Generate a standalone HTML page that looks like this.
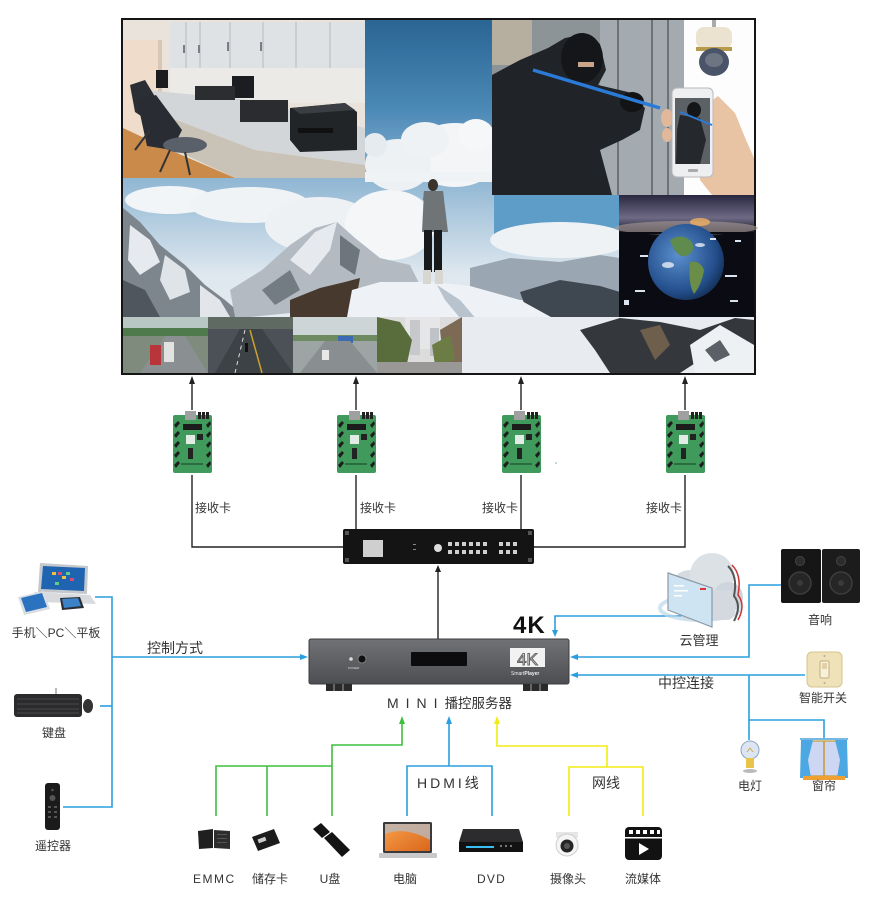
<!DOCTYPE html>
<html><head><meta charset="utf-8"><style>
html,body{margin:0;padding:0;background:#fff;}
body{width:871px;height:904px;overflow:hidden;position:relative;}
svg{position:absolute;left:0;top:0;}
</style></head><body>
<svg width="871" height="904" viewBox="0 0 871 904" xmlns="http://www.w3.org/2000/svg" font-family="'Liberation Sans','Noto Sans CJK SC',sans-serif">
<defs>
<linearGradient id="skyC" x1="0" y1="0" x2="0" y2="1"><stop offset="0" stop-color="#2a6594"/><stop offset="0.55" stop-color="#4a88b6"/><stop offset="1" stop-color="#8db5d2"/></linearGradient>
<linearGradient id="skyP" x1="0" y1="0" x2="0" y2="1"><stop offset="0" stop-color="#8fb6d3"/><stop offset="0.5" stop-color="#dfe8ef"/><stop offset="1" stop-color="#e8edf1"/></linearGradient>
<linearGradient id="earthTop" x1="0" y1="0" x2="0" y2="1"><stop offset="0" stop-color="#2a2740"/><stop offset="0.6" stop-color="#6e6a86"/><stop offset="1" stop-color="#16151e"/></linearGradient>
<radialGradient id="globe" cx="0.4" cy="0.4" r="0.7"><stop offset="0" stop-color="#5b8fce"/><stop offset="0.7" stop-color="#244f8c"/><stop offset="1" stop-color="#0f2748"/></radialGradient>
<linearGradient id="ms" x1="0" y1="0" x2="0" y2="1"><stop offset="0" stop-color="#707276"/><stop offset="1" stop-color="#4c4e52"/></linearGradient>
<linearGradient id="lapScr" x1="0" y1="0" x2="1" y2="1"><stop offset="0" stop-color="#f7a04a"/><stop offset="1" stop-color="#d9661c"/></linearGradient>
<symbol id="rc" viewBox="0 0 39 62">
 <rect x="0" y="4" width="39" height="58" rx="2" fill="#3f9a5c"/>
 <rect x="12" y="0" width="11" height="9" fill="#a0a0a0"/>
 <rect x="25" y="1" width="3" height="7" fill="#222"/><rect x="29" y="1" width="3" height="7" fill="#222"/><rect x="33" y="1" width="3" height="7" fill="#222"/>
 <rect x="10" y="13" width="19" height="6" fill="#1c1c1c"/>
 <rect x="13" y="24" width="9" height="9" fill="#e3ece4"/>
 <rect x="24" y="23" width="6" height="6" fill="#222"/>
 <rect x="15" y="37" width="5" height="11" fill="#222"/>
 <g fill="#1e1e1e">
  <polygon points="1,14 5,10 7,12 3,17"/><polygon points="1,24 5,20 7,22 3,27"/><polygon points="1,34 5,30 7,32 3,37"/><polygon points="1,44 5,40 7,42 3,47"/><polygon points="1,54 5,50 7,52 3,57"/>
  <polygon points="33,14 37,10 38,13 35,17"/><polygon points="33,24 37,20 38,23 35,27"/><polygon points="33,34 37,30 38,33 35,37"/><polygon points="33,44 37,40 38,43 35,47"/><polygon points="33,54 37,50 38,53 35,57"/>
 </g>
 <rect x="8" y="52" width="22" height="2" fill="#2a6b40"/>
</symbol>
</defs>

<!-- ============ VIDEO WALL ============ -->
<rect x="121" y="18" width="635" height="357" fill="#151515"/>
<!-- panorama base -->
<rect x="123" y="178" width="631" height="195" fill="url(#skyP)"/>
<!-- right sky -->
<rect x="494" y="195" width="126" height="40" fill="#5f9dc9"/>
<ellipse cx="560" cy="240" rx="70" ry="18" fill="#eef2f5"/>
<!-- left clouds -->
<ellipse cx="170" cy="200" rx="45" ry="14" fill="#f2f5f8"/>
<ellipse cx="250" cy="205" rx="60" ry="18" fill="#f0f3f6"/>
<ellipse cx="320" cy="225" rx="55" ry="28" fill="#eef1f4"/>
<ellipse cx="390" cy="225" rx="45" ry="35" fill="#f4f6f8"/>
<!-- left mountains -->
<polygon points="123,208 140,222 160,245 185,265 205,285 225,300 245,317 123,317" fill="#7d858d"/>
<polygon points="130,225 150,240 160,262 140,275 128,260" fill="#e6eaee"/>
<polygon points="165,255 185,270 190,292 170,300 160,280" fill="#dfe4e9"/>
<polygon points="200,285 220,300 230,317 200,317" fill="#e2e6ea"/>
<polygon points="123,280 145,290 160,317 123,317" fill="#4f565d"/>
<polygon points="230,290 262,270 290,245 315,228 337,222 355,238 380,258 410,265 420,285 360,300 300,312 250,317 235,317" fill="#b3bac2"/>
<polygon points="290,260 315,232 337,222 330,250 310,275" fill="#e6eaee"/>
<polygon points="340,235 360,250 355,275 340,265" fill="#6d757d"/>
<polygon points="262,290 290,270 300,290 275,305" fill="#737b83"/>
<!-- dark rock -->
<polygon points="290,300 320,288 345,282 360,278 356,300 350,317 290,317" fill="#47392d"/>
<!-- right far mountains -->
<polygon points="470,268 510,258 560,262 600,255 620,258 620,300 470,300" fill="#9aa7b3"/>
<polygon points="520,292 560,280 600,286 620,292 620,320 530,320" fill="#3f4750"/>
<!-- snow field -->
<polygon points="347,317 352,290 380,282 432,282 470,286 520,300 560,322 600,345 640,373 347,373" fill="#eef2f6"/>
<polygon points="437,285 460,300 490,335 500,350 490,352 470,330 445,300" fill="#b9c3cd"/>
<!-- bottom right -->
<rect x="462" y="317" width="292" height="56" fill="#e8ecf0"/>
<polygon points="580,330 620,318 660,322 700,330 735,318 754,320 754,345 725,340 700,360 680,373 610,373 595,350" fill="#34383c"/>
<polygon points="640,330 660,325 670,345 655,360" fill="#6e5f4c"/>
<polygon points="690,345 720,325 754,345 754,373 695,373" fill="#eef1f4"/>
<polygon points="705,350 720,340 730,355 715,362" fill="#5a6066"/>
<!-- person -->
<ellipse cx="433" cy="185" rx="5" ry="6" fill="#3a342d"/>
<polygon points="424,191 443,191 448,232 422,232" fill="#6f7476"/>
<rect x="424" y="230" width="8" height="42" fill="#18191b"/>
<rect x="434" y="230" width="8" height="42" fill="#18191b"/>
<rect x="423" y="270" width="8" height="14" fill="#d8d6d0"/>
<rect x="435" y="270" width="8" height="14" fill="#d8d6d0"/>

<!-- sky column -->
<rect x="365" y="20" width="129" height="160" fill="url(#skyC)"/>
<ellipse cx="455" cy="155" rx="45" ry="32" fill="#f3f5f7"/>
<ellipse cx="398" cy="165" rx="33" ry="26" fill="#eef1f4"/>
<ellipse cx="476" cy="135" rx="18" ry="16" fill="#f5f7f9"/>
<ellipse cx="425" cy="140" rx="24" ry="18" fill="#eff2f5"/>
<ellipse cx="375" cy="145" rx="12" ry="12" fill="#e6ebf0"/>
<rect x="365" y="172" width="129" height="10" fill="#f0f3f6"/>
<ellipse cx="433" cy="185" rx="5" ry="6" fill="#3a342d"/>
<polygon points="424,191 443,191 444,200 423,200" fill="#6f7476"/>

<!-- office photo -->
<rect x="123" y="20" width="242" height="158" fill="#e9e3dc"/>
<rect x="123" y="40" width="38" height="110" fill="#f0dccb"/>
<rect x="158" y="40" width="4" height="110" fill="#d9c6b4"/>
<rect x="170" y="22" width="195" height="46" fill="#dfe2e5"/>
<g stroke="#b5babf" stroke-width="1"><line x1="186" y1="22" x2="186" y2="68"/><line x1="200" y1="22" x2="200" y2="68"/><line x1="230" y1="22" x2="230" y2="68"/><line x1="263" y1="22" x2="263" y2="68"/><line x1="296" y1="22" x2="296" y2="68"/><line x1="330" y1="22" x2="330" y2="68"/></g>
<g fill="#7a7e83"><rect x="183" y="45" width="2" height="8"/><rect x="198" y="45" width="2" height="8"/><rect x="227" y="42" width="2" height="9"/><rect x="260" y="42" width="2" height="9"/></g>
<rect x="170" y="68" width="195" height="35" fill="#eceae6"/>
<rect x="156" y="70" width="12" height="18" fill="#1c1c1e"/>
<rect x="232" y="76" width="22" height="22" fill="#1c1d20"/>
<polygon points="145,90 250,100 365,128 365,165 255,150 150,110" fill="#d3d6d9"/>
<polygon points="150,110 255,150 365,165 365,178 235,178 175,150" fill="#c9c2b6"/>
<polygon points="123,128 170,150 235,178 123,178" fill="#c98a4a"/>
<rect x="195" y="86" width="40" height="14" fill="#2b2d31"/>
<rect x="240" y="100" width="48" height="22" fill="#2a2c30"/>
<polygon points="290,108 345,103 357,112 357,150 300,152 290,140" fill="#222528"/>
<polygon points="292,108 345,103 355,110 300,114" fill="#3a3d41"/>
<rect x="298" y="128" width="35" height="5" fill="#111"/>
<polygon points="130,85 145,80 160,105 150,122 135,112" fill="#2b2f35"/>
<polygon points="137,100 156,95 182,130 172,150 147,146" fill="#292d33"/>
<ellipse cx="185" cy="145" rx="22" ry="8" fill="#5a606a"/>
<g stroke="#333" stroke-width="2"><line x1="170" y1="150" x2="160" y2="172"/><line x1="185" y1="152" x2="190" y2="175"/><line x1="150" y1="130" x2="135" y2="150"/></g>

<!-- burglar photo -->
<rect x="492" y="20" width="192" height="175" fill="#8d9498"/>
<rect x="492" y="20" width="40" height="45" fill="#b6ae9f"/>
<rect x="600" y="20" width="84" height="175" fill="#a3abb0"/>
<g stroke="#6c7276" stroke-width="2"><line x1="618" y1="20" x2="618" y2="195"/><line x1="652" y1="20" x2="652" y2="195"/><line x1="668" y1="20" x2="668" y2="195"/></g>
<polygon points="492,75 520,60 548,48 565,38 585,34 600,44 606,70 598,85 628,92 645,108 640,130 622,140 600,150 612,195 492,195" fill="#202327"/>
<ellipse cx="582" cy="58" rx="21" ry="25" fill="#141619"/>
<rect x="578" y="62" width="16" height="5" fill="#c9a488"/>
<ellipse cx="632" cy="102" rx="12" ry="10" fill="#121315"/>
<line x1="533" y1="70" x2="660" y2="108" stroke="#2a7ad8" stroke-width="3.5"/>
<!-- white panel -->
<rect x="684" y="20" width="70" height="175" fill="#fdfdfd"/>
<rect x="712" y="20" width="4" height="8" fill="#aaa"/>
<rect x="696" y="27" width="36" height="22" rx="8" fill="#ebe3d0"/>
<rect x="696" y="47" width="36" height="4" fill="#b79a4c"/>
<ellipse cx="714" cy="62" rx="15" ry="14" fill="#4a5468"/>
<ellipse cx="714" cy="60" rx="9" ry="7" fill="#6d7482"/>
<polygon points="700,110 718,96 735,113 746,140 754,158 754,195 712,195 700,180" fill="#e8c3a4"/>
<ellipse cx="667" cy="118" rx="6" ry="9" fill="#e1b899"/>
<ellipse cx="667" cy="135" rx="5" ry="7" fill="#e1b899"/>
<rect x="672" y="88" width="41" height="89" rx="5" fill="#eeeff1" stroke="#b9b9bb"/>
<rect x="675" y="98" width="35" height="66" fill="#5c6166"/>
<ellipse cx="694" cy="110" rx="7" ry="8" fill="#151618"/>
<polygon points="680,115 700,118 706,140 700,164 676,164 677,130" fill="#25282c"/>
<line x1="680" y1="112" x2="712" y2="125" stroke="#2a7ad8" stroke-width="2"/>
<rect x="688" y="169" width="10" height="3" rx="1" fill="#aaa"/>

<!-- earth -->
<rect x="619" y="195" width="135" height="122" fill="#0b0c13"/>
<rect x="619" y="195" width="135" height="38" fill="url(#earthTop)"/>
<ellipse cx="686" cy="228" rx="72" ry="7" fill="#a89d98" opacity="0.6"/>
<ellipse cx="700" cy="222" rx="10" ry="4" fill="#f0b060" opacity="0.8"/>
<rect x="619" y="232" width="135" height="2" fill="#0b0c13"/>
<circle cx="686" cy="262" r="38" fill="url(#globe)"/>
<path d="M670,240 q12,-8 22,2 q4,10 -6,14 q-10,2 -16,-16z" fill="#5f8c4c"/>
<path d="M690,262 q10,-2 14,8 q-2,14 -10,24 q-6,-10 -4,-32z" fill="#6a8e48"/>
<ellipse cx="668" cy="265" rx="6" ry="3" fill="#e8eef5" opacity="0.8"/>
<ellipse cx="700" cy="245" rx="5" ry="2" fill="#e8eef5" opacity="0.8"/>
<g fill="#d8e4f0"><rect x="635" y="290" width="10" height="2"/><rect x="640" y="255" width="8" height="2"/><rect x="725" y="275" width="12" height="2"/><rect x="735" y="240" width="6" height="2"/><rect x="730" y="300" width="8" height="2"/><rect x="624" y="300" width="5" height="5"/><rect x="710" y="238" width="6" height="2"/></g>

<!-- thumbnails -->
<rect x="123" y="317" width="85" height="56" fill="#7f8b7d"/>
<rect x="123" y="317" width="85" height="11" fill="#b8c6c4"/>
<rect x="123" y="328" width="85" height="8" fill="#4f7a4c"/>
<polygon points="140,373 165,336 185,336 208,373" fill="#8a8f92"/>
<rect x="150" y="345" width="11" height="20" fill="#b8353a"/>
<rect x="164" y="342" width="10" height="20" fill="#e2e2e0"/>
<rect x="208" y="317" width="85" height="56" fill="#4b5157"/>
<rect x="208" y="317" width="85" height="12" fill="#5e6a62"/>
<polygon points="215,373 240,329 262,329 293,373" fill="#3d4247"/>
<line x1="250" y1="330" x2="262" y2="373" stroke="#c9a030" stroke-width="1.5"/>
<line x1="245" y1="330" x2="235" y2="373" stroke="#ddd" stroke-width="1" stroke-dasharray="4,4"/>
<rect x="245" y="343" width="3" height="9" fill="#111"/>
<rect x="293" y="317" width="84" height="56" fill="#9da4a4"/>
<rect x="293" y="317" width="84" height="20" fill="#ced5d7"/>
<rect x="293" y="335" width="84" height="6" fill="#6e8a60"/>
<rect x="338" y="336" width="15" height="7" fill="#3b6cb3"/>
<polygon points="300,373 325,341 350,341 377,373" fill="#898e91"/>
<rect x="322" y="350" width="7" height="10" fill="#e8e8e8"/>
<rect x="377" y="317" width="85" height="56" fill="#dcdcdc"/>
<rect x="405" y="317" width="35" height="32" fill="#e6e6e8"/>
<rect x="410" y="320" width="10" height="35" fill="#c7c8cb"/>
<rect x="430" y="328" width="9" height="28" fill="#bfc2c6"/>
<polygon points="377,317 400,322 412,340 405,373 377,373" fill="#586c3c"/>
<polygon points="440,330 462,317 462,373 445,373" fill="#7d6a54"/>
<polygon points="432,345 450,335 455,360 435,365" fill="#6b7c44"/>
<rect x="377" y="362" width="85" height="11" fill="#9a9896"/>

<!-- ============ RECEIVER CARDS ============ -->
<use href="#rc" x="173" y="411" width="39" height="62"/>
<use href="#rc" x="337" y="411" width="39" height="62"/>
<use href="#rc" x="502" y="411" width="39" height="62"/>
<use href="#rc" x="666" y="411" width="39" height="62"/>
<circle cx="556" cy="463" r="0.8" fill="#7aa"/>

<!-- black lines -->
<g stroke="#222" stroke-width="1.4" fill="none">
 <line x1="192" y1="410" x2="192" y2="380"/><line x1="356" y1="410" x2="356" y2="380"/><line x1="521" y1="410" x2="521" y2="380"/><line x1="685" y1="410" x2="685" y2="380"/>
 <polyline points="192,475 192,547 343,547"/>
 <polyline points="685,475 685,547 534,547"/>
 <line x1="356" y1="475" x2="356" y2="530"/>
 <line x1="521" y1="475" x2="521" y2="530"/>
 <line x1="438" y1="640" x2="438" y2="568"/>
</g>
<g fill="#222">
 <polygon points="189,384 192,376 195,384"/><polygon points="353,384 356,376 359,384"/><polygon points="518,384 521,376 524,384"/><polygon points="682,384 685,376 688,384"/>
 <polygon points="435,572 438,565 441,572"/>
</g>

<!-- splicer -->
<rect x="343" y="529" width="191" height="35" rx="2" fill="#141414"/>
<g fill="#555"><rect x="345" y="531" width="4" height="4"/><rect x="528" y="531" width="4" height="4"/><rect x="345" y="558" width="4" height="4"/><rect x="528" y="558" width="4" height="4"/></g>
<rect x="363" y="540" width="20" height="17" fill="#cfcfcf"/>
<rect x="413" y="544" width="3" height="1" fill="#888"/><rect x="413" y="549" width="3" height="1" fill="#888"/>
<circle cx="438" cy="548" r="4" fill="#ddd"/>
<g fill="#cfcfcf">
 <rect x="448" y="542" width="4" height="4"/><rect x="455" y="542" width="4" height="4"/><rect x="462" y="542" width="4" height="4"/><rect x="469" y="542" width="4" height="4"/><rect x="476" y="542" width="4" height="4"/><rect x="483" y="542" width="4" height="4"/>
 <rect x="448" y="550" width="4" height="4"/><rect x="455" y="550" width="4" height="4"/><rect x="462" y="550" width="4" height="4"/><rect x="469" y="550" width="4" height="4"/><rect x="476" y="550" width="4" height="4"/><rect x="483" y="550" width="4" height="4"/>
 <rect x="499" y="542" width="4" height="4"/><rect x="506" y="542" width="4" height="4"/><rect x="513" y="542" width="4" height="4"/>
 <rect x="499" y="550" width="4" height="4"/><rect x="506" y="550" width="4" height="4"/><rect x="513" y="550" width="4" height="4"/>
</g>

<!-- mini server -->
<rect x="309" y="639" width="260" height="45" rx="2" fill="url(#ms)" stroke="#3a3c40"/>
<rect x="326" y="684" width="26" height="7" fill="#2a2a2a"/><rect x="333" y="684" width="2" height="7" fill="#666"/><rect x="342" y="684" width="2" height="7" fill="#666"/>
<rect x="523" y="684" width="25" height="7" fill="#2a2a2a"/><rect x="530" y="684" width="2" height="7" fill="#666"/><rect x="539" y="684" width="2" height="7" fill="#666"/>
<rect x="411" y="652" width="56" height="14" rx="1" fill="#0c0c0e"/>
<circle cx="351" cy="659" r="1.8" fill="#ddd"/>
<circle cx="362" cy="659" r="4" fill="#111" stroke="#888" stroke-width="0.8"/>
<text x="348" y="669" font-size="3" fill="#ddd">POWER</text>
<rect x="510" y="648" width="35" height="19" fill="#f2f2f2"/>
<text x="527.5" y="665" font-size="17" text-anchor="middle" fill="#f2f2f2" stroke="#666" stroke-width="1">4K</text>
<text x="511" y="675" font-size="5" fill="#eee">Smart<tspan font-weight="bold">Player</tspan></text>

<!-- ============ BLUE LINES ============ -->
<g stroke="#2a9fe0" stroke-width="1.6" fill="none">
 <polyline points="95,597 112,597 112,807 63,807"/>
 <line x1="100" y1="706" x2="112" y2="706"/>
 <line x1="112" y1="657" x2="302" y2="657"/>
 <polyline points="684,616 555,616 555,632"/>
 <polyline points="781,585 749,585 749,657 576,657"/>
 <line x1="805" y1="675" x2="576" y2="675"/>
 <polyline points="749,675 749,740"/>
 <polyline points="749,720 824,720 824,738"/>
 <line x1="449" y1="766" x2="449" y2="722"/>
 <polyline points="407,816 407,766 492,766 492,816"/>
</g>
<g fill="#2a9fe0">
 <polygon points="300,654 308,657 300,660"/>
 <polygon points="552,630 555,637 558,630"/>
 <polygon points="578,654 570,657 578,660"/>
 <polygon points="578,672 570,675 578,678"/>
 <polygon points="446,724 449,716 452,724"/>
</g>
<!-- green -->
<g stroke="#3fbf3f" stroke-width="1.6" fill="none">
 <polyline points="402,722 402,745 332,745 332,816"/>
 <polyline points="216,816 216,766 332,766"/>
 <line x1="267" y1="766" x2="267" y2="816"/>
</g>
<polygon points="399,724 402,716 405,724" fill="#3fbf3f"/>
<!-- yellow -->
<g stroke="#f2ec10" stroke-width="1.6" fill="none">
 <polyline points="497,722 497,746 607,746 607,767"/>
 <polyline points="569,816 569,767 643,767 643,816"/>
</g>
<polygon points="494,724 497,716 500,724" fill="#f2ec10"/>

<!-- ============ LEFT ICONS ============ -->
<!-- laptop & tablets -->
<polygon points="40,563 88,566 87,594 38,592" fill="#c4c8cd"/>
<polygon points="43,566 85,568 84,591 41,589" fill="#1f64b0"/>
<g fill="#f0c040"><rect x="52" y="572" width="4" height="3"/><rect x="62" y="576" width="4" height="3"/></g>
<g fill="#e04a70"><rect x="58" y="572" width="4" height="3"/><rect x="70" y="578" width="4" height="3"/></g>
<g fill="#60d080"><rect x="66" y="572" width="4" height="3"/><rect x="55" y="582" width="4" height="3"/></g>
<polygon points="34,592 90,595 96,604 40,602" fill="#d8dadd"/>
<polygon points="18,597 44,591 50,609 24,615" fill="#d9dde2"/>
<polygon points="21,598 42,593 47,607 26,612" fill="#2b72c0"/>
<polygon points="60,598 80,597 84,608 62,610" fill="#2a2d33"/>
<polygon points="62,599 78,598 81,606 64,608" fill="#3b82c9"/>
<!-- keyboard -->
<rect x="14" y="694" width="68" height="23" rx="3" fill="#2b2b2d"/>
<g stroke="#4a4a4d" stroke-width="1"><line x1="17" y1="699" x2="79" y2="699"/><line x1="17" y1="704" x2="79" y2="704"/><line x1="17" y1="709" x2="79" y2="709"/><line x1="17" y1="713" x2="79" y2="713"/></g>
<line x1="56" y1="694" x2="56" y2="688" stroke="#555" stroke-width="0.8"/>
<ellipse cx="88" cy="706" rx="5" ry="7" fill="#333"/>
<!-- remote -->
<rect x="45" y="783" width="15" height="47" rx="3" fill="#1b1b1b"/>
<g fill="#555"><circle cx="52.5" cy="790" r="1.3"/><circle cx="52.5" cy="798" r="3"/><rect x="48" y="806" width="3" height="2"/><rect x="54" y="806" width="3" height="2"/><rect x="48" y="811" width="3" height="2"/><rect x="54" y="811" width="3" height="2"/><rect x="48" y="816" width="3" height="2"/><rect x="54" y="816" width="3" height="2"/></g>

<!-- ============ RIGHT ICONS ============ -->
<!-- cloud -->
<ellipse cx="700" cy="608" rx="40" ry="12" fill="none" stroke="#bcd7ea" stroke-width="4" opacity="0.7"/>
<circle cx="690" cy="590" r="20" fill="#d6dbe1"/>
<circle cx="712" cy="575" r="22" fill="#dce1e6"/>
<circle cx="728" cy="597" r="15" fill="#cfd5dc"/>
<rect x="680" y="590" width="55" height="30" rx="8" fill="#d3d9df"/>
<path d="M732,565 q10,10 6,30 q8,10 0,25" stroke="#c33" stroke-width="1.5" fill="none"/>
<path d="M728,566 q10,10 6,30 q8,10 0,25" stroke="#555" stroke-width="2" fill="none"/>
<polygon points="668,573 712,588 712,627 668,610" fill="#cfe4f2" stroke="#8a9aa8" stroke-width="1.2"/>
<g fill="#fff"><rect x="674" y="585" width="10" height="1.5"/><rect x="674" y="590" width="14" height="1.5"/><rect x="674" y="595" width="8" height="1.5"/></g>
<rect x="700" y="588" width="6" height="2" fill="#d33"/>
<!-- speakers -->
<rect x="781" y="549" width="40" height="54" rx="2" fill="#161616"/>
<rect x="822" y="549" width="38" height="54" rx="2" fill="#1c1c1c"/>
<circle cx="800" cy="561" r="4.5" fill="#2c2c2c" stroke="#444"/>
<circle cx="800" cy="583" r="11" fill="#262626" stroke="#3d3d3d" stroke-width="1.5"/>
<circle cx="800" cy="583" r="3" fill="#3a3a3a"/>
<circle cx="841" cy="561" r="4.5" fill="#2c2c2c" stroke="#444"/>
<circle cx="841" cy="583" r="11" fill="#262626" stroke="#3d3d3d" stroke-width="1.5"/>
<circle cx="841" cy="583" r="3" fill="#3a3a3a"/>
<!-- switch -->
<rect x="807" y="652" width="35" height="35" rx="5" fill="#efe2b8" stroke="#d6c48e"/>
<rect x="820" y="661" width="9" height="17" rx="1.5" fill="#f8f1da" stroke="#c2b080"/>
<rect x="822" y="663" width="5" height="6" fill="#e0d2a6"/>
<circle cx="824.5" cy="656" r="1" fill="#aa9"/><circle cx="824.5" cy="683" r="1" fill="#aa9"/>
<!-- bulb -->
<circle cx="750" cy="750" r="9" fill="#dbe6f2" stroke="#8ea4bc"/>
<path d="M747,752 l3,-4 l3,4" stroke="#c9a030" fill="none" stroke-width="0.8"/>
<rect x="746" y="758" width="8" height="10" fill="#e8c44c"/>
<ellipse cx="750" cy="771" rx="7" ry="2" fill="#bbb"/>
<!-- curtain -->
<rect x="806" y="741" width="36" height="35" fill="#cdd6f2"/>
<line x1="824" y1="741" x2="824" y2="776" stroke="#c49a30" stroke-width="1.5"/>
<rect x="806" y="741" width="36" height="35" fill="none" stroke="#c49a30" stroke-width="1.2"/>
<line x1="800" y1="739" x2="848" y2="739" stroke="#4aa0d8" stroke-width="1.5"/>
<polygon points="801,740 813,740 808,760 811,778 800,778" fill="#4ca8e2"/>
<polygon points="835,740 847,740 848,778 837,778 840,760" fill="#4ca8e2"/>
<rect x="803" y="776" width="42" height="4" fill="#f0a030"/>

<!-- ============ BOTTOM ICONS ============ -->
<!-- EMMC -->
<polygon points="198,831 213,829 213,848 199,849" fill="#1f1f1f"/>
<polygon points="214,830 230,831 230,849 214,848" fill="#2e2e2e"/>
<g fill="#555"><rect x="217" y="834" width="10" height="1"/><rect x="217" y="838" width="10" height="1"/><rect x="217" y="842" width="10" height="1"/></g>
<!-- SD -->
<polygon points="252,837 274,829 280,843 258,851" fill="#1c1c1c"/>
<rect x="258" y="838" width="8" height="4" fill="#ccc" transform="rotate(-20 262 840)"/>
<!-- USB -->
<polygon points="313,829 321,823 330,832 322,838" fill="#141414"/>
<polygon points="324,838 332,832 350,850 342,857" fill="#141414"/>
<!-- laptop -->
<rect x="383" y="822" width="49" height="31" rx="1.5" fill="#3a3a3c"/>
<rect x="385" y="824" width="45" height="27" fill="url(#lapScr)"/>
<path d="M385,834 q20,-8 45,6 l0,-16 l-45,0z" fill="#b8b8bc" opacity="0.8"/>
<rect x="379" y="853" width="58" height="5" rx="1" fill="#c9c9cb"/>
<!-- DVD -->
<polygon points="463,829 519,829 523,842 459,842" fill="#2c2c2e"/>
<rect x="459" y="842" width="64" height="10" fill="#121212"/>
<rect x="466" y="846" width="28" height="2" fill="#3ac0f0"/>
<g fill="#777"><rect x="500" y="845" width="2" height="2"/><rect x="505" y="845" width="2" height="2"/><rect x="510" y="845" width="2" height="2"/></g>
<!-- camera -->
<path d="M556,832 h22 v6 h-22z" fill="#e6e6e6"/>
<circle cx="567" cy="845" r="11" fill="#f5f5f5" stroke="#cfcfcf"/>
<circle cx="567" cy="846" r="6.5" fill="#262626"/>
<circle cx="567" cy="846" r="3" fill="#555"/>
<!-- media -->
<rect x="625" y="827" width="37" height="33" rx="4" fill="#121212"/>
<g fill="#fff"><rect x="629" y="830" width="4" height="4"/><rect x="636" y="830" width="4" height="4"/><rect x="643" y="830" width="4" height="4"/><rect x="650" y="830" width="4" height="4"/><rect x="657" y="830" width="3" height="4"/></g>
<rect x="625" y="837" width="37" height="1.5" fill="#fff"/>
<polygon points="639,843 639,855 649,849" fill="#fff"/>

<!-- ============ TEXT ============ -->
<g fill="#333" font-size="12">
 <text x="213" y="512" text-anchor="middle">接收卡</text>
 <text x="378" y="512" text-anchor="middle">接收卡</text>
 <text x="500" y="512" text-anchor="middle">接收卡</text>
 <text x="664" y="512" text-anchor="middle">接收卡</text>
 <text x="56" y="637" text-anchor="middle">手机＼PC＼平板</text>
 <text x="54" y="737" text-anchor="middle">键盘</text>
 <text x="53" y="850" text-anchor="middle">遥控器</text>
 <text x="820" y="624" text-anchor="middle">音响</text>
 <text x="823" y="702" text-anchor="middle">智能开关</text>
 <text x="750" y="790" text-anchor="middle">电灯</text>
 <text x="824" y="790" text-anchor="middle">窗帘</text>
 <text x="193" y="883" letter-spacing="1.5">EMMC</text>
 <text x="270" y="883" text-anchor="middle">储存卡</text>
 <text x="330" y="883" text-anchor="middle">U盘</text>
 <text x="405" y="883" text-anchor="middle">电脑</text>
 <text x="477" y="883" letter-spacing="1.2">DVD</text>
 <text x="568" y="883" text-anchor="middle">摄像头</text>
 <text x="643" y="883" text-anchor="middle">流媒体</text>
 <text x="699" y="645" text-anchor="middle" font-size="13">云管理</text>
</g>
<g fill="#333" font-size="14">
 <text x="147" y="653">控制方式</text>
 <text x="658" y="688">中控连接</text>
 <text x="592" y="788">网线</text>
 <text x="417" y="788" letter-spacing="3">HDMI线</text>
 <text x="387" y="708"><tspan letter-spacing="7">MINI</tspan><tspan font-size="13.5">播控服务器</tspan></text>
</g>
<text x="513" y="633" font-size="24" font-weight="bold" fill="#111" letter-spacing="1">4K</text>
</svg>
</body></html>
